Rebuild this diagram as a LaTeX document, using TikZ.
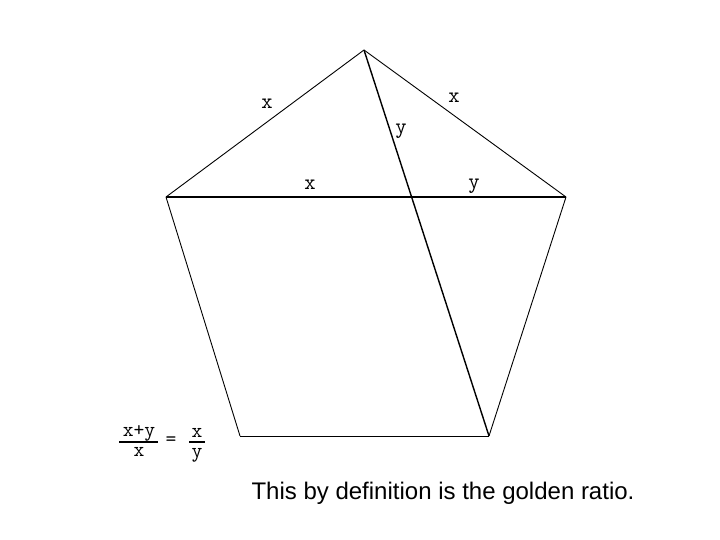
\documentclass[tikz,border=0pt]{standalone}
\usepackage{fontspec}
\setmainfont{Liberation Sans}
\begin{document}
\begin{tikzpicture}[x=1pt,y=-1pt,
  edge/.style={line width=0.9pt,black},
  thick edge/.style={line width=2pt,black},
  lab/.style={font=\ttfamily\fontsize{22}{22}\selectfont,inner sep=0pt},
  flab/.style={font=\ttfamily\fontsize{21}{21}\selectfont,inner sep=0pt}]
\useasboundingbox (0,0) rectangle (720,540);
\coordinate (T) at (364,50);
\coordinate (L) at (166,197);
\coordinate (R) at (566,197);
\coordinate (BL) at (240,436);
\coordinate (BR) at (489,436);
\draw[edge] (T) -- (L);
\draw[edge] (T) -- (R);
\draw[edge] (L) -- (BL);
\draw[edge] (R) -- (BR);
\draw[edge] (BL) -- (BR);
\draw[line width=1.4pt] (T) -- (BR);
\draw[thick edge] (L) -- (R);
% labels
\node[lab] (lx1) at (267,104) {x};
\node[lab] (lx2) at (454,98) {x};
\node[lab] (ly1) at (401,131) {y};
\node[lab] (lx3) at (310,185) {x};
\node[lab] (ly2) at (474,186) {y};
% fraction
\node[flab] (n1) at (139,433) {x+y};
\coordinate (b1a) at (119,442);
\coordinate (b1b) at (158,442);
\draw[line width=1.8pt] (b1a) -- (b1b);
\node[flab] (d1) at (139,452) {x};
\node[flab] (eq) at (171,441) {=};
\node[flab] (n2) at (197,433) {x};
\coordinate (b2a) at (189,442);
\coordinate (b2b) at (205,442);
\draw[line width=1.8pt] (b2a) -- (b2b);
\node[flab] (d2) at (197,455) {y};
% caption
\node[inner sep=0pt,font=\fontsize{24}{24}\selectfont] (cap) at (443,493) {This by definition is the golden ratio.};
\end{tikzpicture}
\end{document}
